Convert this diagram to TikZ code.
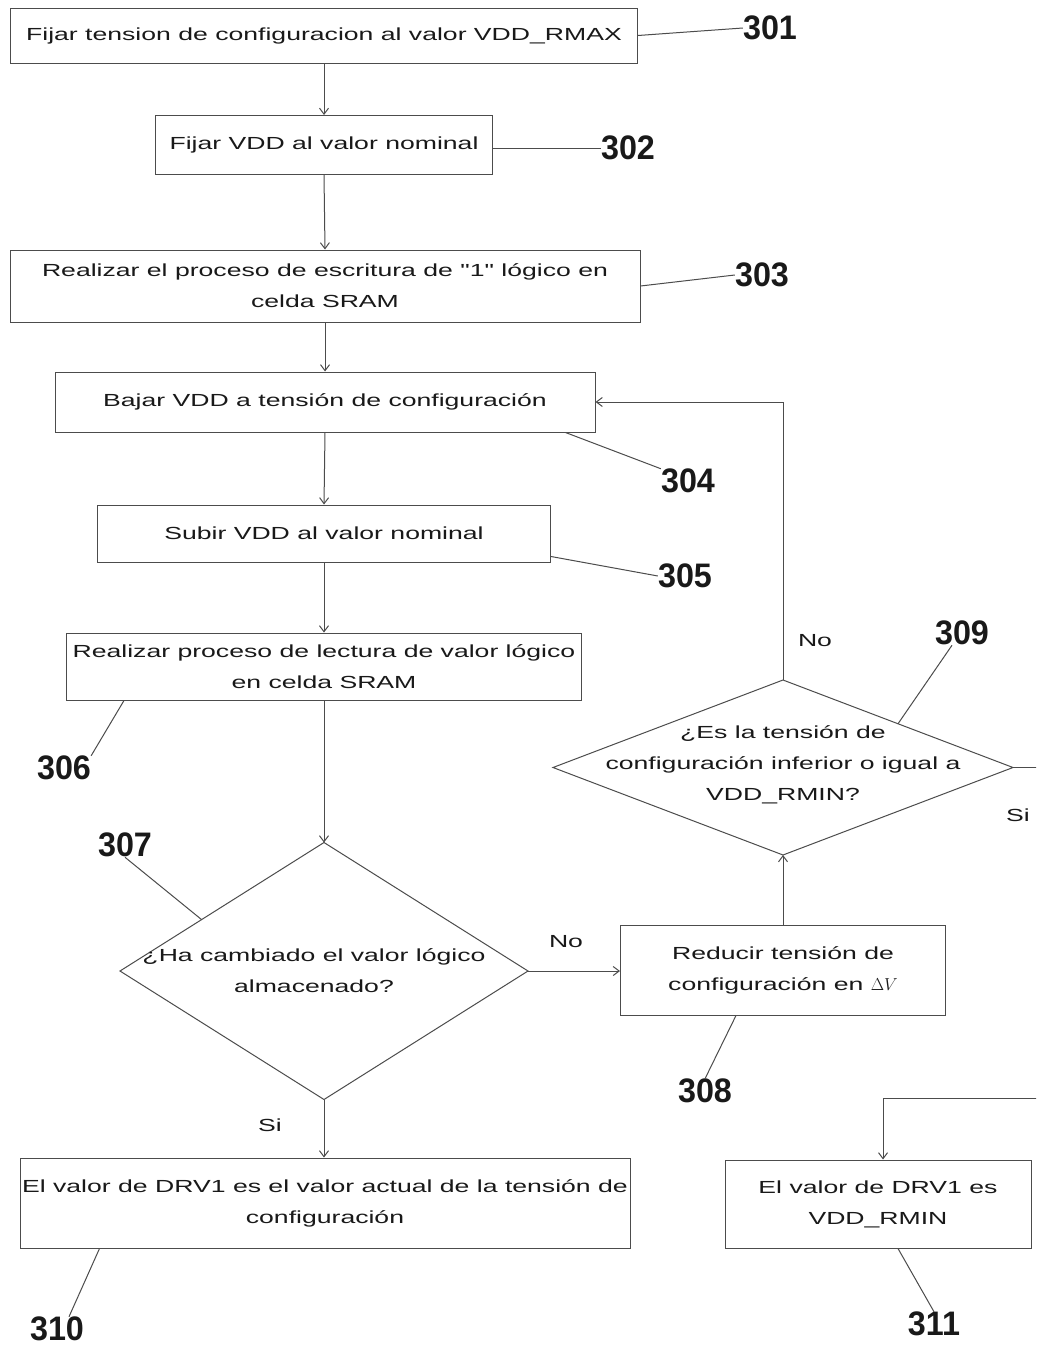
\documentclass[tikz,border=0pt]{standalone}
\usepackage{fontspec}
\usetikzlibrary{arrows.meta,shapes.geometric,calc}
\newfontfamily\stepfont{Liberation Sans}[FakeStretch=1.52]
\newfontfamily\refnumfont{Liberation Sans}[FakeStretch=0.95]
\begin{document}
\begin{tikzpicture}[x=1pt,y=-1pt,
  ink/.style={draw=black!70, line width=1pt},
  steptext/.style={align=center, inner sep=0pt, text=black!90,
    font=\stepfont\fontsize{17.5}{31}\selectfont},
  procbox/.style={ink, rectangle, steptext},
  decision/.style={ink, diamond, inner sep=0pt, outer sep=0pt},
  refnum/.style={inner sep=0pt, text=black!90,
    font=\refnumfont\bfseries\fontsize{34}{34}\selectfont},
  branch/.style={steptext},
  flow/.style={ink, -{Straight Barb[length=6pt,width=9pt]}},
  leader/.style={ink}
]
\useasboundingbox (0,0) rectangle (1036,1349);
\clip (0,0) rectangle (1036,1349);
\fill[white] (0,0) rectangle (1036,1349);

% process steps
\node[procbox, minimum width=627pt, minimum height=55pt] (b301) at (324,35.5)
  {Fijar tension de configuracion al valor VDD\_RMAX};
\node[procbox, minimum width=337pt, minimum height=59pt] (b302) at (324,145)
  {Fijar VDD al valor nominal};
\node[procbox, minimum width=630pt, minimum height=72pt] (b303) at (325,286)
  {Realizar el proceso de escritura de "1" lógico en\\celda SRAM};
\node[procbox, minimum width=540pt, minimum height=60pt] (b304) at (325,402)
  {Bajar VDD a tensión de configuración};
\node[procbox, minimum width=453pt, minimum height=57pt] (b305) at (324,533.5)
  {Subir VDD al valor nominal};
\node[procbox, minimum width=515pt, minimum height=67pt] (b306) at (324,666.5)
  {Realizar proceso de lectura de valor lógico\\en celda SRAM};

% decisions
\node[decision, minimum width=408pt, minimum height=257pt] (d307) at (324,971) {};
\node[steptext] (t307) at (314,971) {¿Ha cambiado el valor lógico\\almacenado?};
\node[procbox, minimum width=325pt, minimum height=90pt] (b308) at (783,970)
  {Reducir tensión de\\configuración en $\Delta V$};
\node[decision, minimum width=460pt, minimum height=175pt] (d309) at (783,767.5) {};
\node[steptext] (t309) at (783,765)
  {¿Es la tensión de\\configuración inferior o igual a\\VDD\_RMIN?};

% results
\node[procbox, minimum width=610pt, minimum height=90pt] (b310) at (325,1203)
  {El valor de DRV1 es el valor actual de la tensión de\\configuración};
\node[procbox, minimum width=306pt, minimum height=88pt] (b311) at (878,1204)
  {El valor de DRV1 es\\VDD\_RMIN};

% reference numerals
\node[refnum] (l301) at (770,28) {301};
\node[refnum] (l302) at (628,148) {302};
\node[refnum] (l303) at (762,275) {303};
\node[refnum] (l304) at (688,481) {304};
\node[refnum] (l305) at (685,576) {305};
\node[refnum] (l306) at (64,768) {306};
\node[refnum] (l307) at (125,845) {307};
\node[refnum] (l308) at (705,1091) {308};
\node[refnum] (l309) at (962,633) {309};
\node[refnum] (l310) at (57,1329) {310};
\node[refnum] (l311) at (934,1324) {311};

% branch labels
\node[branch] (no307) at (566,942) {No};
\node[branch] (si307) at (270,1125) {Si};
\node[branch] (no309) at (815,641) {No};
\node[branch] (si309) at (1018,815) {Si};

% flow connectors
\draw[flow] (b301.south) -- (b302.north);
\draw[flow] (b302.south) -- (b303.north);
\draw[flow] (b303.south) -- (b304.north);
\draw[flow] (b304.south) -- (b305.north);
\draw[flow] (b305.south) -- (b306.north);
\draw[flow] (b306.south) -- (d307.north);
\draw[flow] (d307.south) -- (d307.south |- b310.north);
\draw[flow] (d307.east) -- (d307.east -| b308.west);
\draw[flow] (b308.north) -- (d309.south);
\draw[flow] (d309.north) |- (b304.east);
\coordinate (sibend) at (1060,1098);
\draw[flow] (d309.east) -| (sibend) -| ([xshift=5pt]b311.north);

% leader lines to reference numerals
\draw[leader] (b301.east) -- (l301.west);
\draw[leader] ([yshift=-3pt]b302.east) -- (l302.west);
\draw[leader] (b303.east) -- (l303.west);
\draw[leader] ([xshift=-30pt]b304.south east) -- (l304.north west);
\draw[leader] ([yshift=6pt]b305.south east) -- (l305.west);
\draw[leader] ([xshift=58pt]b306.south west) -- (l306.north east);
\draw[leader] ($(d307.west)!0.4!(d307.north)$) -- (l307.south);
\draw[leader] ([xshift=-47pt]b308.south) -- (l308.north);
\draw[leader] ($(d309.north)!0.5!(d309.east)$) -- ([xshift=-10pt]l309.south);
\draw[leader] ([xshift=80pt]b310.south west) -- ([xshift=12pt]l310.north);
\draw[leader] ([xshift=20pt]b311.south) -- (l311.north);
\end{tikzpicture}
\end{document}
